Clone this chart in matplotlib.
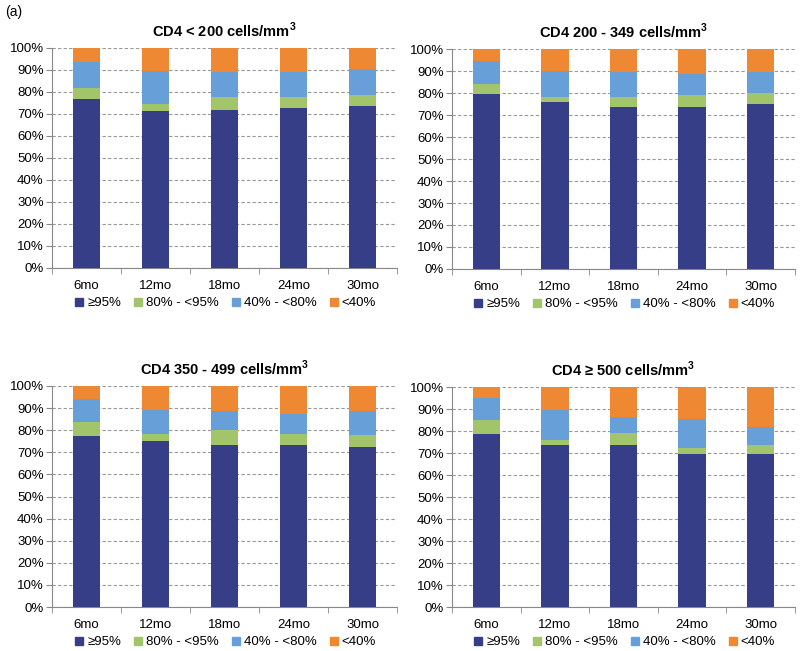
import matplotlib
matplotlib.use("Agg")
import matplotlib.pyplot as plt
from matplotlib.lines import Line2D
import numpy as np

plt.rcParams['font.family'] = ['Liberation Sans', 'DejaVu Sans']
plt.rcParams['mathtext.fontset'] = 'custom'
plt.rcParams['mathtext.bf'] = 'Liberation Sans:bold'
plt.rcParams['mathtext.rm'] = 'Liberation Sans'

categories = ["6mo", "12mo", "18mo", "24mo", "30mo"]
series_names = ["\u226595%", "80% - <95%", "40% - <80%", "<40%"]
colors = ["#353E87", "#A2C46B", "#67A0D9", "#EE8833"]
titles = [r"CD4 < 200 cells/mm$^\mathbf{3}$", r"CD4 200 - 349 cells/mm$^\mathbf{3}$",
          r"CD4 350 - 499 cells/mm$^\mathbf{3}$", "CD4 \u2265 500 cells/mm$^\\mathbf{3}$"]

# values per panel, percentages for each adherence band
p1_ge95 = [77.0, 71.5, 72.0, 72.5, 73.5]
p1_80_95 = [5.0, 3.0, 5.5, 5.0, 5.0]
p1_40_80 = [11.5, 15.0, 11.5, 11.5, 12.0]
p1_lt40 = [6.5, 10.5, 11.0, 11.0, 9.5]

p2_ge95 = [79.5, 76.0, 73.5, 73.5, 75.0]
p2_80_95 = [4.5, 2.0, 4.5, 5.5, 5.0]
p2_40_80 = [10.5, 12.0, 11.5, 9.5, 9.5]
p2_lt40 = [5.5, 10.0, 10.5, 11.5, 10.5]

p3_ge95 = [77.5, 75.0, 73.5, 73.5, 72.5]
p3_80_95 = [6.0, 3.5, 6.5, 5.0, 5.5]
p3_40_80 = [10.5, 10.5, 8.5, 9.0, 10.5]
p3_lt40 = [6.0, 11.0, 11.5, 12.5, 11.5]

p4_ge95 = [78.5, 73.5, 73.5, 69.5, 69.5]
p4_80_95 = [6.5, 2.5, 5.5, 3.0, 4.0]
p4_40_80 = [10.0, 13.5, 7.5, 13.0, 8.5]
p4_lt40 = [5.0, 10.5, 13.5, 14.5, 18.0]

panels = [
    [p1_ge95, p1_80_95, p1_40_80, p1_lt40],
    [p2_ge95, p2_80_95, p2_40_80, p2_lt40],
    [p3_ge95, p3_80_95, p3_40_80, p3_lt40],
    [p4_ge95, p4_80_95, p4_40_80, p4_lt40],
]

W, H = 800, 651
fig = plt.figure(figsize=(W / 100, H / 100), dpi=100)
fig.patch.set_facecolor("white")

# pixel boxes (left, right, top, bottom)
boxes = [(52, 397, 48, 268), (452, 795, 49, 269),
         (52, 397, 386, 607), (452, 795, 387, 607)]

for i, (box, data) in enumerate(zip(boxes, panels)):
    l, r, t, b = box
    ax = fig.add_axes([l / W, 1 - b / H, (r - l) / W, (b - t) / H])
    x = np.arange(len(categories))
    bottom = np.zeros(len(categories))
    for vals, c in zip(data, colors):
        ax.bar(x, vals, bottom=bottom, width=0.4, color=c, zorder=3)
        bottom += np.array(vals)
    ax.set_xlim(-0.5, len(categories) - 0.5)
    ax.set_ylim(0, 100)
    ax.set_yticks(np.arange(0, 101, 10))
    ax.set_yticklabels([f"{v}%" for v in range(0, 101, 10)], fontsize=9.5)
    ax.set_xticks(x)
    ax.set_xticklabels(categories, fontsize=9.5)
    ax.set_xticks(np.arange(-0.5, len(categories), 1.0), minor=True)
    ax.tick_params(axis='x', which='major', length=0, pad=9)
    ax.tick_params(axis='x', which='minor', length=4, color="#888888", direction='out')
    ax.tick_params(axis='y', length=4, color="#888888", direction='out', pad=2)
    for sp in ["top", "right"]:
        ax.spines[sp].set_visible(False)
    for sp in ["left", "bottom"]:
        ax.spines[sp].set_color("#888888")
        ax.spines[sp].set_linewidth(0.8)
    ax.yaxis.grid(True, linestyle=(0, (3, 2)), color="#999999", linewidth=0.8, zorder=0)
    ax.set_axisbelow(True)
    ax.set_title(titles[i], fontsize=10.5, fontweight='bold', pad=8)
    handles = [Line2D([], [], marker='s', linestyle='none', markersize=6,
                      markerfacecolor=c, markeredgecolor=c) for c in colors]
    ax.legend(handles, series_names, loc='upper center', bbox_to_anchor=(0.5, -0.09),
              ncol=4, frameon=False, fontsize=9.5, handletextpad=0.1,
              columnspacing=0.8, handlelength=1.0, borderpad=0.2)

fig.text(5 / W, 1 - 12 / H, "(a)", fontsize=10, va='center', ha='left')

fig.savefig("out.png", dpi=100, facecolor="white")
